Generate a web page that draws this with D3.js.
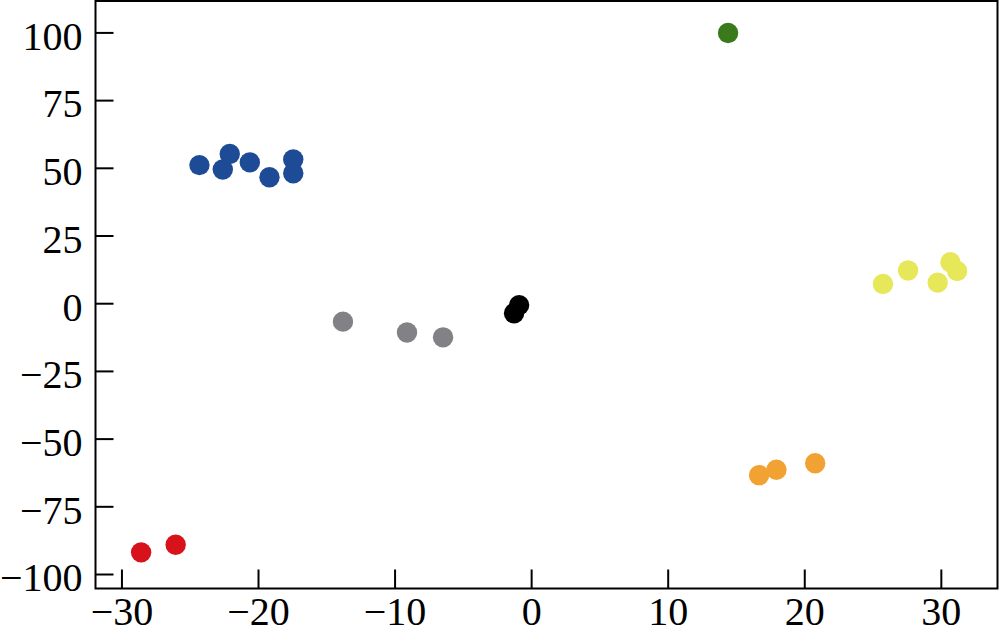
<!DOCTYPE html>
<html><head><meta charset="utf-8">
<script src="https://cdn.jsdelivr.net/npm/d3@7"></script>
<style>body{margin:0;background:#fff}svg{display:block}</style>
</head><body>
<script>
const groups = ["red","orange","green","blue","grey","black","yellow"];
const groupColors = ["#d7121b","#f2a232","#3b7a1c","#1d4b95","#828185","#000000","#e6e85a"];
const xValues = {
  red:[-28.56,-26.03],
  orange:[16.69,17.96,20.8],
  green:[14.42],
  blue:[-24.29,-22.58,-22.07,-20.6,-19.16,-17.42,-17.42],
  grey:[-13.78,-9.09,-6.45],
  black:[-0.88,-1.25],
  yellow:[25.76,27.6,29.77,30.7,31.19]
};
const yValues = {
  red:[-92.0,-89.2],
  orange:[-63.5,-61.5,-59.1],
  green:[99.8],
  blue:[51.0,49.4,55.1,52.0,46.5,53.1,48.0],
  grey:[-6.8,-10.8,-12.6],
  black:[-0.7,-3.7],
  yellow:[7.1,12.1,7.6,15.1,11.9]
};
const xTicks = [-30,-20,-10,0,10,20,30];
const yTicks = [-100,-75,-50,-25,0,25,50,75,100];

const W=1000,H=628;
const L=95.5,R=997.5,T=1,B=588.5;
const svg=d3.select("body").append("svg").attr("width",W).attr("height",H);
const x=d3.scaleLinear().domain([-31.9,34.15]).range([L,R]);
const y=d3.scaleLinear().domain([-105.35,111.6]).range([B,T]);

const pts=[];
groups.forEach((g,i)=>xValues[g].forEach((v,j)=>pts.push({x:v,y:yValues[g][j],c:groupColors[i]})));
svg.append("g").selectAll("circle").data(pts).join("circle")
  .attr("cx",d=>x(d.x)).attr("cy",d=>y(d.y)).attr("r",10.2).attr("fill",d=>d.c);

const font="'Liberation Serif','Times New Roman',serif";
const ax=svg.append("g").attr("transform",`translate(0,${B})`)
  .call(d3.axisBottom(x).tickValues(xTicks).tickSizeInner(-19).tickSizeOuter(0).tickPadding(8));
const ay=svg.append("g").attr("transform",`translate(${L},0)`)
  .call(d3.axisLeft(y).tickValues(yTicks).tickSizeInner(-18).tickSizeOuter(0).tickPadding(13));
[ax,ay].forEach(a=>{
  a.select(".domain").remove();
  a.selectAll("line").attr("stroke","#000").attr("stroke-width",2);
  a.selectAll("text").attr("font-family",font).attr("font-size",40).attr("fill","#000");
});
ay.selectAll("text").attr("dy","0.42em");
svg.append("rect").attr("x",L).attr("y",T).attr("width",R-L).attr("height",B-T)
  .attr("fill","none").attr("stroke","#000").attr("stroke-width",2);
</script>
</body></html>
